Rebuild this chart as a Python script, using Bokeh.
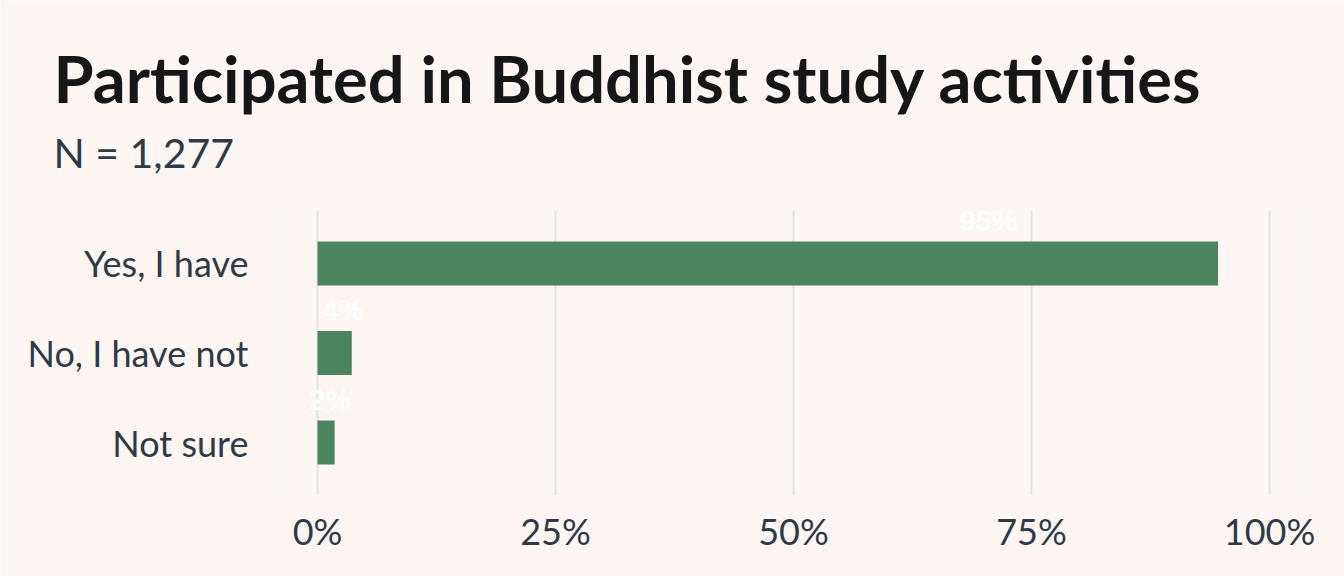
from bokeh.plotting import figure
from bokeh.models import Range1d, FixedTicker, Title, ColumnDataSource
from bokeh.core.properties import value
from bokeh.embed import file_html
from bokeh.resources import INLINE

categories = ["Yes, I have", "No, I have not", "Not sure"]
shares = [94.6, 3.6, 1.8]
share_labels = ["95%", "4%", "2%"]
x_ticks = [0, 25, 50, 75, 100]
x_tick_labels = ["0%", "25%", "50%", "75%", "100%"]

BG = "#FEF6F2"
GREEN = "#4A8560"
TEXT = "#2E3B46"

ypos = list(range(len(categories)))
src = ColumnDataSource(dict(
    y=ypos,
    share=shares,
    label=share_labels,
    lx=[s * 0.745 for s in shares],
    ly=[y - 0.48 for y in ypos],
))

p = figure(width=1344, height=576, output_backend="svg", toolbar_location=None,
           x_range=Range1d(-3.887, 103.256), y_range=Range1d(2.592, -0.592),
           min_border_left=280, min_border_right=44, min_border_bottom=81,
           min_border_top=210, background_fill_color=BG, border_fill_color=BG,
           outline_line_color=None)

p.title.text = "Participated in Buddhist study activities"
p.title.text_font = "Lato"
p.title.text_font_style = "bold"
p.title.text_font_size = "65px"
p.title.text_color = "#141618"
p.title.offset = 53 - 280
p.title.standoff = -50
p.add_layout(Title(text="N = 1,277", text_font="Lato", text_font_style="normal",
                   text_font_size="41px", text_color=TEXT, offset=53 - 280,
                   standoff=68), "above")

p.hbar(y="y", right="share", left=0, height=0.49, source=src, color=GREEN, line_color=None)
p.text(x="lx", y="ly", text="label", source=src, text_color="white",
       text_font=value("Liberation Sans"), text_font_style="bold",
       text_font_size="29px", text_align="center", text_baseline="middle")

p.xaxis.ticker = FixedTicker(ticks=x_ticks)
p.xaxis.major_label_overrides = {t: l for t, l in zip(x_ticks, x_tick_labels)}
p.yaxis.ticker = FixedTicker(ticks=ypos)
p.yaxis.major_label_overrides = {y: c for y, c in zip(ypos, categories)}
for ax in (p.xaxis, p.yaxis):
    ax.axis_line_color = None
    ax.major_tick_line_color = None
    ax.minor_tick_line_color = None
    ax.major_label_text_font = "Lato"
    ax.major_label_text_color = TEXT
p.xaxis.major_label_text_font_size = "36px"
p.xaxis.major_label_standoff = 7
p.yaxis.major_label_standoff = 26
p.yaxis.major_label_text_font_size = "36px"

p.xgrid.grid_line_color = "#E6E4E2"
p.xgrid.grid_line_width = 2
p.ygrid.grid_line_color = None

open("out.html", "w").write(file_html(p, INLINE))
